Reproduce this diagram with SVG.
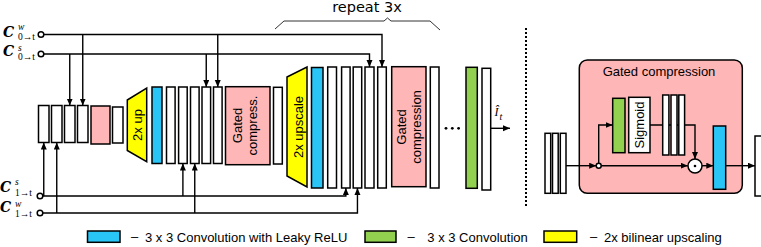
<svg xmlns="http://www.w3.org/2000/svg" width="761" height="247" viewBox="0 0 761 247">
<defs>
<marker id="ah" markerUnits="userSpaceOnUse" markerWidth="8" markerHeight="8" refX="7" refY="3" orient="auto">
<path d="M0,0 L7,3 L0,6 z" fill="#000"/>
</marker>
<style>
.b{fill:#fff;stroke:#000;stroke-width:1.5}
.pk{fill:#ffb6b6;stroke:#000;stroke-width:1.5}
.bl{fill:#29c5f6;stroke:#000;stroke-width:1.5}
.gr{fill:#92d050;stroke:#000;stroke-width:1.5}
.ye{fill:#ffff00;stroke:#000;stroke-width:1.5}
.ar{fill:none;stroke:#000;stroke-width:1.4;marker-end:url(#ah)}
.t{font-family:"Liberation Sans",Arial,sans-serif;font-size:13px;fill:#000}
.tc{font-family:"Liberation Sans",Arial,sans-serif;font-size:13px;fill:#000;text-anchor:middle}
.m{font-family:"Liberation Serif","DejaVu Serif",serif;font-size:9.5px;fill:#000}
.mC{font-family:"DejaVu Serif",serif;font-weight:bold;font-style:italic;font-size:14px}
.mS{font-style:italic;font-size:9.5px}
.io{fill:#fff;stroke:#000;stroke-width:1.5}
</style>
</defs>
<rect width="761" height="247" fill="#fff"/>

<g id="labels">
<text class="m" x="3" y="37"><tspan class="mC">C</tspan><tspan class="mS" x="18" y="30">w</tspan><tspan x="18" y="39.5">0→t</tspan></text>
<text class="m" x="3" y="56"><tspan class="mC">C</tspan><tspan class="mS" x="18" y="50.5">s</tspan><tspan x="18" y="59.5">0→t</tspan></text>
<text class="m" x="0" y="192"><tspan class="mC">C</tspan><tspan class="mS" x="15" y="185">s</tspan><tspan x="15" y="195.5">1→t</tspan></text>
<text class="m" x="0" y="212"><tspan class="mC">C</tspan><tspan class="mS" x="15" y="207">w</tspan><tspan x="15" y="216.5">1→t</tspan></text>
</g>

<g id="gc-detail">
<rect x="579.3" y="60" width="163" height="133.3" rx="8" fill="#ffb6b6" stroke="#000" stroke-width="1.5"/>
<text class="tc" x="659" y="76">Gated compression</text>
</g>

<g id="connectors">
<polyline class="ar" points="44,34.5 382,34.5 382,67"/>
<line class="ar" x1="82.75" y1="34.5" x2="82.75" y2="105.5"/>
<line class="ar" x1="217.75" y1="34.5" x2="217.75" y2="87"/>
<polyline class="ar" points="44,54 369.5,54 369.5,67"/>
<line class="ar" x1="69.75" y1="54" x2="69.75" y2="105.5"/>
<line class="ar" x1="206.25" y1="54" x2="206.25" y2="87"/>
<polyline class="ar" points="43,196 345.85,196 345.85,188"/>
<line class="ar" x1="43.75" y1="196" x2="43.75" y2="142.5"/>
<line class="ar" x1="182.9" y1="196" x2="182.9" y2="163.5"/>
<polyline class="ar" points="43,213 357.45,213 357.45,188"/>
<line class="ar" x1="56.75" y1="213" x2="56.75" y2="142.5"/>
<line class="ar" x1="194.75" y1="213" x2="194.75" y2="163.5"/>
<line class="ar" x1="490.7" y1="128.3" x2="510" y2="128.3"/>
<line class="ar" x1="566" y1="165.7" x2="596.2" y2="165.7"/>
<line class="ar" x1="601.2" y1="165.7" x2="687.8" y2="165.7"/>
<polyline class="ar" points="598.7,163.2 598.7,125 612.7,125"/>
<polyline class="ar" points="650,125 695,125 695,159"/>
<line class="ar" x1="702" y1="165.7" x2="713.3" y2="165.7"/>
<line class="ar" x1="725.7" y1="165.7" x2="755" y2="165.7"/>
</g>

<g id="circles">
<circle class="io" cx="41" cy="34.5" r="2.8"/>
<circle class="io" cx="41" cy="54" r="2.8"/>
<circle class="io" cx="40" cy="196" r="2.8"/>
<circle class="io" cx="40" cy="213" r="2.8"/>
</g>

<g id="stage1">
<rect class="b" x="38.5" y="105.5" width="10.5" height="37"/>
<rect class="b" x="51.5" y="105.5" width="10.5" height="37"/>
<rect class="b" x="64.5" y="105.5" width="10.5" height="37"/>
<rect class="b" x="77.5" y="105.5" width="10.5" height="37"/>
<rect class="pk" x="91" y="106" width="19" height="38"/>
<rect class="b" x="112.5" y="107" width="10.5" height="36"/>
</g>

<g id="up1">
<polygon class="ye" points="127.3,100 146.7,88 146.7,161.7 127.3,150.5"/>
<text class="tc" transform="translate(141.5,125) rotate(-90)">2x up</text>
</g>

<g id="stage2">
<rect class="bl" x="152" y="87" width="10" height="76.5"/>
<rect class="b" x="166.5" y="87" width="8.6" height="76.5"/>
<rect class="b" x="178.6" y="87" width="8.6" height="76.5"/>
<rect class="b" x="190.5" y="87" width="8.6" height="76.5"/>
<rect class="b" x="202" y="87" width="8.6" height="76.5"/>
<rect class="b" x="213.5" y="87" width="8.6" height="76.5"/>
</g>

<g id="gc1">
<rect class="pk" x="225.5" y="86.7" width="44.5" height="78"/>
<text class="tc" transform="translate(242,125.5) rotate(-90)">Gated</text>
<text class="tc" transform="translate(257,125.5) rotate(-90)">compress.</text>
</g>
<rect id="stage2b" class="b" x="273.5" y="87.3" width="8.8" height="76.7"/>

<g id="up2">
<polygon class="ye" points="287,77 307,67 307,187 287,176"/>
<text class="tc" transform="translate(302.5,127) rotate(-90)">2x upscale</text>
</g>

<g id="stage3">
<rect class="bl" x="311.5" y="67.5" width="11.5" height="120.5"/>
<rect class="b" x="327.7" y="67" width="8.8" height="121"/>
<rect class="b" x="341.6" y="67" width="8.5" height="121"/>
<rect class="b" x="353.2" y="67" width="8.5" height="121"/>
<rect class="b" x="365" y="67" width="9" height="121"/>
<rect class="b" x="377.7" y="67" width="8.6" height="121"/>
</g>

<g id="gc2">
<rect class="pk" x="391.7" y="66.7" width="34.3" height="120"/>
<text class="tc" transform="translate(405.5,127) rotate(-90)">Gated</text>
<text class="tc" transform="translate(420.5,127) rotate(-90)">compression</text>
</g>
<rect id="stage3b" class="b" x="430.3" y="67" width="8.7" height="121"/>

<g id="dots">
<circle cx="446" cy="128.3" r="1.4" fill="#000"/>
<circle cx="452.3" cy="128.3" r="1.4" fill="#000"/>
<circle cx="458.6" cy="128.3" r="1.4" fill="#000"/>
</g>

<g id="final">
<rect class="gr" x="466" y="67.3" width="11.3" height="121"/>
<rect class="b" x="482" y="68.3" width="8.7" height="121.7"/>
</g>
<g id="out">
<text x="494.5" y="115.5" style="font-family:'Liberation Serif',serif;font-style:italic;font-size:12px">Î<tspan x="499.5" y="120" style="font-size:10px">t</tspan></text>
</g>

<g id="brace">
<path d="M275,29 L284,21 L384,21 L387.5,18 L391,21 L430,21 L440,30" fill="none" stroke="#333" stroke-width="1"/>
<text x="367" y="12" style="font-family:'DejaVu Sans',sans-serif;font-size:14.5px;text-anchor:middle">repeat 3x</text>
</g>

<line id="divider" x1="526" y1="28" x2="526" y2="207" stroke="#000" stroke-width="2" stroke-dasharray="2 2"/>

<g id="gc-in">
<rect class="b" x="545" y="133.3" width="5.7" height="60"/>
<rect class="b" x="552.5" y="133.3" width="5.7" height="60"/>
<rect class="b" x="560.3" y="133.3" width="5.7" height="60"/>
</g>
<circle id="split" class="io" cx="598.7" cy="165.7" r="2.5"/>
<rect id="gc-conv" class="gr" x="612.7" y="98.3" width="12.3" height="54.4"/>
<g id="sigmoid">
<rect class="b" x="628.7" y="97.3" width="21.3" height="55.4"/>
<text class="tc" transform="translate(644,125) rotate(-90)">Sigmoid</text>
</g>
<g id="gc-mid">
<rect class="b" x="662.7" y="95" width="6.2" height="60"/>
<rect class="b" x="671" y="95" width="6" height="60"/>
<rect class="b" x="678.8" y="95" width="5.8" height="60"/>
</g>
<g id="mult">
<circle class="io" cx="695" cy="166" r="7"/>
<circle cx="695" cy="166" r="1.3" fill="#000"/>
</g>
<rect id="gc-blue" class="bl" x="713.3" y="126" width="12.4" height="63.3"/>
<rect id="gc-out" class="b" x="755" y="136" width="8" height="60"/>

<g id="legend">
<rect class="bl" x="87.5" y="231" width="32.5" height="11.3"/>
<text class="t" x="131" y="241">–</text>
<text class="t" x="145" y="242">3 x 3 Convolution with Leaky ReLU</text>
<rect class="gr" x="365" y="231" width="31" height="11.3"/>
<text class="t" x="407.5" y="241">–</text>
<text class="t" x="427.3" y="242">3 x 3 Convolution</text>
<rect class="ye" x="544" y="231" width="32.7" height="11.3"/>
<text class="t" x="590" y="241">–</text>
<text class="t" x="604" y="242">2x bilinear upscaling</text>
</g>
</svg>
